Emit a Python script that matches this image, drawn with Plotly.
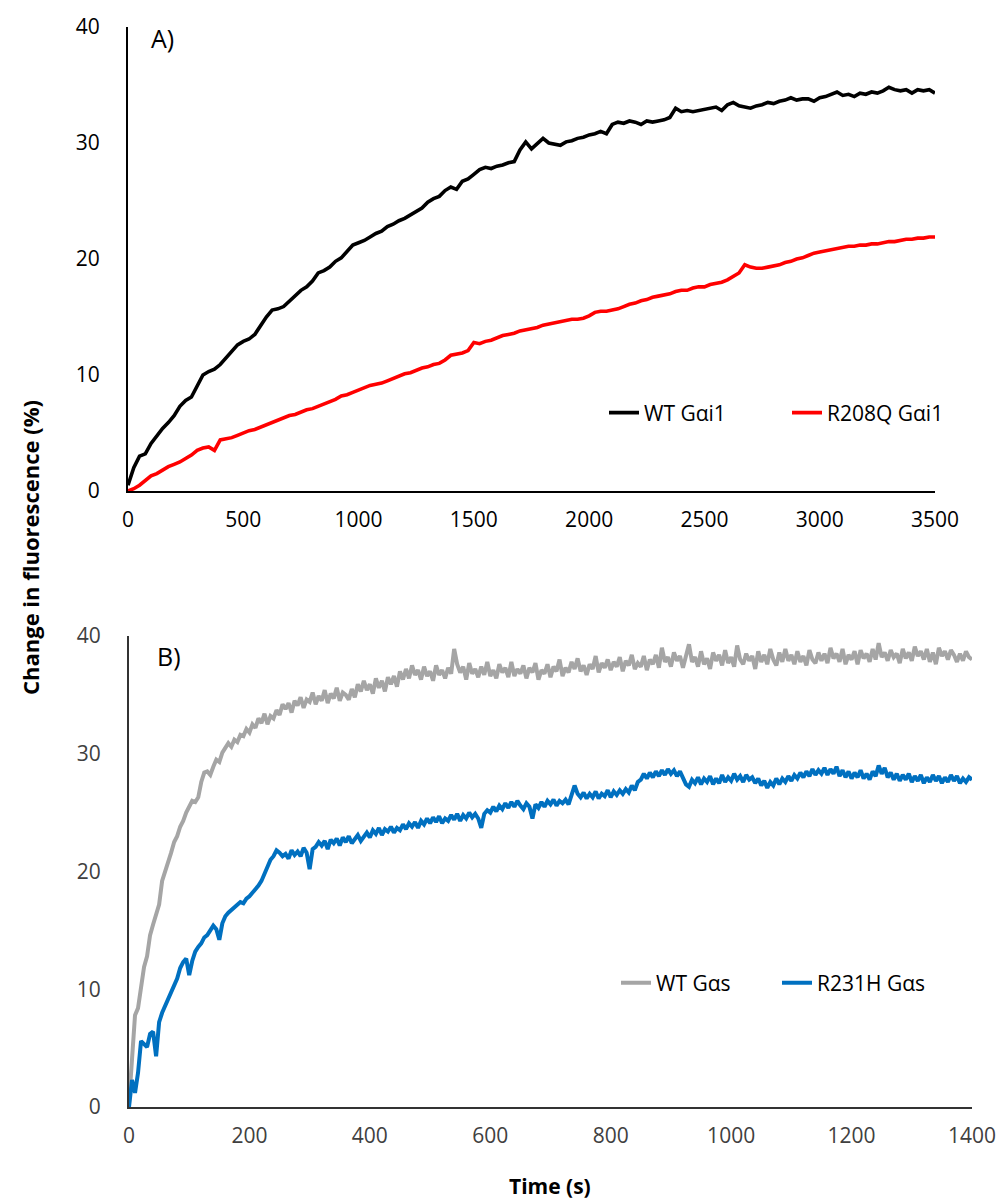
import plotly.graph_objects as go

# ---------------- Data ----------------
# Panel A: sampled every 25 s, 0..3500 s
wt_gai1 = [0.5, 2.0, 3.0, 3.2, 4.1, 4.8, 5.4, 5.9, 6.5, 7.3, 7.8, 8.1, 9.0, 10.0, 10.3, 10.5,
           10.9, 11.5, 12.0, 12.6, 12.9, 13.1, 13.5, 14.3, 15.0, 15.6, 15.7, 15.9, 16.4, 16.8,
           17.3, 17.6, 18.1, 18.8, 19.0, 19.3, 19.8, 20.1, 20.6, 21.2, 21.4, 21.6, 21.9, 22.2,
           22.4, 22.8, 23.0, 23.3, 23.5, 23.8, 24.1, 24.4, 24.9, 25.2, 25.4, 25.9, 26.2, 26.0,
           26.7, 26.9, 27.3, 27.7, 27.9, 27.8, 28.0, 28.1, 28.3, 28.4, 29.4, 30.1, 29.5, 29.9,
           30.4, 30.0, 29.9, 29.8, 30.1, 30.2, 30.4, 30.5, 30.7, 30.8, 31.0, 30.8, 31.6, 31.8,
           31.7, 31.9, 31.8, 31.6, 31.9, 31.8, 31.9, 32.0, 32.2, 33.0, 32.7, 32.8, 32.7, 32.8,
           32.9, 33.0, 33.1, 32.8, 33.3, 33.5, 33.2, 33.1, 33.0, 33.2, 33.3, 33.5, 33.4, 33.6,
           33.7, 33.9, 33.7, 33.8, 33.8, 33.6, 33.9, 34.0, 34.2, 34.4, 34.1, 34.2, 34.0, 34.3,
           34.2, 34.4, 34.3, 34.5, 34.8, 34.6, 34.5, 34.6, 34.3, 34.6, 34.5, 34.6, 34.3]
r208q_gai1 = [0.0, 0.2, 0.5, 0.9, 1.3, 1.5, 1.8, 2.1, 2.3, 2.5, 2.8, 3.1, 3.5, 3.7, 3.8, 3.5,
              4.4, 4.5, 4.6, 4.8, 5.0, 5.2, 5.3, 5.5, 5.7, 5.9, 6.1, 6.3, 6.5, 6.6, 6.8, 7.0,
              7.1, 7.3, 7.5, 7.7, 7.9, 8.2, 8.3, 8.5, 8.7, 8.9, 9.1, 9.2, 9.3, 9.5, 9.7, 9.9,
              10.1, 10.2, 10.4, 10.6, 10.7, 10.9, 11.0, 11.3, 11.7, 11.8, 11.9, 12.1, 12.8, 12.7,
              12.9, 13.0, 13.2, 13.4, 13.5, 13.6, 13.8, 13.9, 14.0, 14.1, 14.3, 14.4, 14.5, 14.6,
              14.7, 14.8, 14.8, 14.9, 15.1, 15.4, 15.5, 15.5, 15.6, 15.7, 15.9, 16.1, 16.2, 16.4,
              16.5, 16.7, 16.8, 16.9, 17.0, 17.2, 17.3, 17.3, 17.5, 17.6, 17.6, 17.8, 17.9, 18.0,
              18.2, 18.5, 18.8, 19.5, 19.3, 19.2, 19.2, 19.3, 19.4, 19.5, 19.7, 19.8, 20.0, 20.1,
              20.3, 20.5, 20.6, 20.7, 20.8, 20.9, 21.0, 21.1, 21.1, 21.2, 21.2, 21.3, 21.3, 21.4,
              21.5, 21.5, 21.6, 21.7, 21.7, 21.8, 21.8, 21.9, 21.9]
step_a = 25
time_a = [step_a * i for i in range(len(wt_gai1))]

# Panel B: sampled every 5 s, 0..1400 s
wt_gas = [0.3, 4.5, 7.8, 8.4, 10.5, 11.9, 12.8, 14.6, 15.5, 16.4, 17.2, 19.2, 20.0, 20.6, 21.6,
          22.5, 23.0, 23.8, 24.3, 25.0, 25.5, 26.0, 25.9, 26.3, 27.6, 28.4, 28.5, 28.2, 28.9,
          29.5, 29.3, 30.1, 30.5, 30.9, 30.6, 31.2, 31.0, 31.6, 31.5, 32.1, 31.8, 32.5, 32.2,
          33.0, 32.6, 33.4, 32.5, 33.2, 33.0, 33.7, 33.3, 34.2, 33.8, 34.3, 33.5, 34.5, 34.1,
          34.8, 33.9, 34.6, 34.4, 35.2, 34.2, 34.9, 34.5, 35.4, 34.3, 35.1, 34.7, 35.6, 34.5,
          35.2, 35.0, 34.6, 35.5, 34.8, 35.9, 35.3, 36.2, 35.4, 35.9, 35.1, 36.4, 35.6, 36.2,
          35.3, 36.5, 35.9, 36.6, 35.7, 37.0, 36.3, 37.2, 36.4, 37.5, 36.7, 37.1, 36.3, 37.4,
          36.6, 37.0, 36.2, 37.5, 36.7, 37.1, 36.4, 37.3, 36.8, 38.9, 37.6, 36.9, 37.4, 36.3,
          37.7, 36.8, 37.2, 36.5, 37.4, 36.7, 37.8, 36.6, 37.1, 36.4, 37.6, 36.9, 37.3, 36.5,
          37.8, 36.6, 37.2, 36.8, 37.5, 36.4, 37.3, 36.9, 37.7, 36.3, 37.1, 36.8, 37.6, 36.5,
          37.4, 37.0, 38.0, 36.6, 37.3, 36.9, 37.8, 37.2, 38.1, 37.0, 37.5, 36.7, 37.6, 37.2,
          38.3, 36.9, 37.7, 37.3, 38.0, 37.1, 37.8, 37.4, 38.2, 37.0, 37.9, 37.5, 38.4, 37.2,
          37.7, 37.4, 38.3, 37.1, 38.0, 37.6, 38.4, 37.3, 39.0, 37.8, 38.2, 37.4, 38.6, 37.9,
          38.3, 37.3, 38.5, 39.3, 37.8, 38.2, 37.4, 38.7, 37.6, 38.1, 37.2, 38.6, 37.9, 38.4,
          37.5, 38.8, 37.7, 38.2, 37.4, 39.2, 38.0, 37.6, 38.5, 37.9, 38.3, 37.2, 38.7, 37.8,
          38.4, 37.6, 38.9, 38.0, 37.5, 38.6, 37.8, 38.9, 37.9, 38.4, 37.6, 38.7, 37.8, 38.3,
          37.5, 38.8, 38.0, 37.7, 38.6, 37.9, 38.5, 37.7, 39.0, 38.1, 38.5, 37.8, 38.9, 37.6,
          38.4, 38.0, 38.7, 37.6, 38.8, 38.1, 38.5, 37.8, 38.9, 38.0, 39.4, 38.2, 38.6, 37.9,
          38.8, 38.2, 38.5, 37.7, 38.9, 38.1, 38.6, 37.9, 39.1, 38.3, 38.7, 38.0, 38.9, 37.8,
          38.6, 37.6, 39.0, 38.3, 38.7, 38.0, 38.8, 38.4, 37.8, 38.5, 37.9, 38.7, 38.2, 38.0]
r231h_gas = [0.0, 2.3, 1.2, 2.9, 5.6, 5.4, 5.1, 6.2, 6.4, 4.3, 7.2, 8.0, 8.6, 9.2, 9.8, 10.4,
             10.9, 11.8, 12.3, 12.6, 11.2, 12.4, 13.2, 13.6, 13.9, 14.4, 14.6, 15.0, 15.4, 15.1,
             14.2, 15.6, 16.2, 16.5, 16.7, 17.0, 17.1, 17.4, 17.3, 17.7, 17.9, 18.2, 18.4, 18.8,
             19.2, 19.8, 20.5, 21.0, 21.3, 21.8, 21.6, 21.3, 21.5, 21.1, 21.8, 21.4, 21.7, 21.3,
             22.0, 21.6, 20.2, 21.9, 22.1, 22.5, 22.2, 22.6, 21.9, 22.7, 22.4, 22.8, 22.2, 22.9,
             22.5, 23.0, 22.4, 22.8, 23.1, 22.6, 23.0, 23.3, 22.9, 23.5, 23.2, 23.7, 23.1, 23.6,
             23.4, 23.8, 23.3, 23.7, 23.5, 24.0, 23.6, 24.1, 23.8, 24.2, 23.7, 24.3, 24.0, 24.5,
             24.1, 24.6, 24.2, 24.7, 24.1, 24.5, 24.3, 24.8, 24.4, 24.9, 24.3, 24.8, 24.5, 25.0,
             24.6, 24.9, 24.5, 23.7, 24.9, 25.2, 25.0, 25.5, 25.1, 25.6, 25.3, 25.8, 25.4, 25.9,
             25.5, 26.0, 25.6, 25.3, 25.8, 25.5, 24.5, 25.7, 25.4, 25.9, 25.5, 26.0, 25.7, 26.1,
             25.6, 26.0, 25.8, 26.1, 25.7, 26.4, 27.3, 26.6, 26.3, 26.7, 26.2, 26.6, 26.3, 26.8,
             26.2, 26.6, 26.4, 26.9, 26.3, 26.8, 26.5, 26.9, 26.6, 27.0, 26.7, 27.3, 26.9, 27.6,
             27.8, 28.3, 27.9, 28.4, 28.0, 28.5, 28.1, 28.6, 28.2, 28.7, 28.3, 28.6, 28.1, 28.5,
             28.0, 27.4, 27.2, 27.8, 27.5, 28.0, 27.4, 27.9, 27.6, 28.1, 27.4, 27.9, 27.5, 28.2,
             27.6, 28.0, 27.7, 28.3, 27.8, 28.1, 27.6, 28.2, 27.8, 28.0, 27.5, 27.9, 27.3, 27.7,
             27.1, 27.6, 27.3, 27.9, 27.4, 27.9, 27.6, 28.1, 27.7, 28.2, 27.9, 28.4, 28.0, 28.5,
             28.1, 28.7, 28.2, 28.6, 28.3, 28.8, 28.2, 28.7, 28.3, 28.9, 28.1, 28.6, 28.0, 28.5,
             27.9, 28.4, 28.0, 28.6, 27.9, 28.3, 27.8, 28.5, 28.1, 29.0, 28.3, 28.8, 28.0, 28.4,
             27.8, 28.3, 27.7, 28.2, 27.8, 28.3, 27.6, 28.1, 27.7, 28.2, 27.5, 28.0, 27.6, 28.2,
             27.7, 28.1, 27.5, 28.0, 27.6, 28.2, 27.7, 28.1, 27.5, 27.9, 27.6, 28.0, 27.8]
step_b = 5
time_b_wt = [step_b * i for i in range(len(wt_gas))]
time_b_mut = [step_b * i for i in range(len(r231h_gas))]

x_ticks_a = [0, 500, 1000, 1500, 2000, 2500, 3000, 3500]
x_ticks_b = [0, 200, 400, 600, 800, 1000, 1200, 1400]
y_ticks = [0, 10, 20, 30, 40]

FONT = "Open Sans"

fig = go.Figure()
fig.add_trace(go.Scatter(x=time_a, y=wt_gai1, mode="lines", name="WT Gαi1",
                         line=dict(color="#000000", width=3.6), xaxis="x", yaxis="y",
                         legend="legend"))
fig.add_trace(go.Scatter(x=time_a, y=r208q_gai1, mode="lines", name="R208Q Gαi1",
                         line=dict(color="#FF0000", width=3.6), xaxis="x", yaxis="y",
                         legend="legend"))
fig.add_trace(go.Scatter(x=time_b_wt, y=wt_gas, mode="lines", name="WT Gαs",
                         line=dict(color="#A5A5A5", width=4), xaxis="x2", yaxis="y2",
                         legend="legend2"))
fig.add_trace(go.Scatter(x=time_b_mut, y=r231h_gas, mode="lines", name="R231H Gαs",
                         line=dict(color="#0070C0", width=4), xaxis="x2", yaxis="y2",
                         legend="legend2"))

W, H = 1000, 1203


def px_x(p):
    return p / W


def px_y(p):
    return 1 - p / H


axis_common = dict(showgrid=False, zeroline=False, ticks="", mirror=False, automargin=False)

fig.update_layout(
    width=W, height=H,
    margin=dict(l=0, r=0, t=0, b=0, autoexpand=False),
    paper_bgcolor="white", plot_bgcolor="white",
    font=dict(family=FONT, color="#000000", size=21),
    hovermode=False,
    xaxis=dict(domain=[px_x(128), px_x(935)], range=[0, 3500], anchor="y",
               tickvals=x_ticks_a, showline=True, linecolor="#000000", linewidth=2,
               tickfont=dict(size=21, color="#000000"), ticklabelstandoff=9,
               **axis_common),
    yaxis=dict(domain=[px_y(491), px_y(27)], range=[0, 40], anchor="x",
               tickvals=y_ticks, showline=True, linecolor="#000000", linewidth=2,
               tickfont=dict(size=21, color="#000000"), ticklabelstandoff=22,
               **axis_common),
    xaxis2=dict(domain=[px_x(129), px_x(972)], range=[0, 1400], anchor="y2",
                tickvals=x_ticks_b, showline=True, linecolor="#333333", linewidth=2,
                tickfont=dict(size=21, color="#404040"), ticklabelstandoff=9,
                **axis_common),
    yaxis2=dict(domain=[px_y(1107), px_y(636)], range=[0, 40], anchor="x2",
                tickvals=y_ticks, showline=True, linecolor="#333333", linewidth=2,
                tickfont=dict(size=21, color="#404040"), ticklabelstandoff=22,
                **axis_common),
    legend=dict(orientation="h", x=px_x(604), y=px_y(413), xanchor="left", yanchor="middle",
                font=dict(size=21, color="#000000"), bgcolor="rgba(0,0,0,0)",
                entrywidth=138, entrywidthmode="pixels"),
    legend2=dict(orientation="h", x=px_x(616), y=px_y(983), xanchor="left", yanchor="middle",
                 font=dict(size=21, color="#000000"), bgcolor="rgba(0,0,0,0)",
                 entrywidth=116, entrywidthmode="pixels"),
    annotations=[
        dict(text="A)", x=px_x(149), y=px_y(38), xref="paper", yref="paper",
             xanchor="left", yanchor="middle", showarrow=False,
             font=dict(size=25, color="#000000")),
        dict(text="B)", x=px_x(155), y=px_y(656), xref="paper", yref="paper",
             xanchor="left", yanchor="middle", showarrow=False,
             font=dict(size=25, color="#000000")),
        dict(text="<b>Change in fluorescence (%)</b>", x=px_x(30), y=px_y(548),
             xref="paper", yref="paper", xanchor="center", yanchor="middle",
             textangle=-90, showarrow=False, font=dict(size=22, color="#000000")),
        dict(text="<b>Time (s)</b>", x=px_x(550), y=px_y(1186), xref="paper", yref="paper",
             xanchor="center", yanchor="middle", showarrow=False,
             font=dict(size=21, color="#000000")),
    ],
)

fig.write_html("out.html", config={"displayModeBar": False})
